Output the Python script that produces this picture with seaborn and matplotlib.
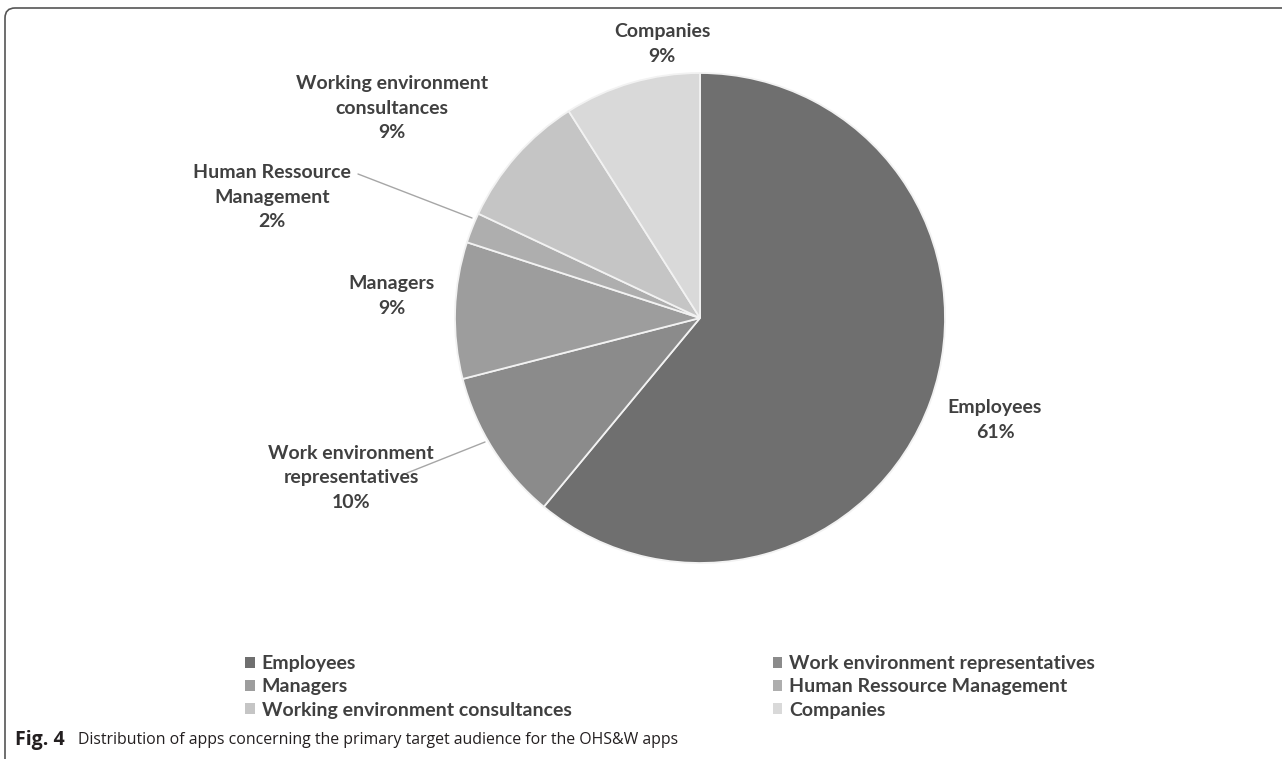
import matplotlib
matplotlib.use("Agg")
import matplotlib.pyplot as plt
import seaborn as sns
from matplotlib.patches import Patch, FancyBboxPatch

# Primary target audience of the OHS&W apps (share of apps, %)
categories = [
    "Employees",
    "Work environment representatives",
    "Managers",
    "Human Ressource Management",
    "Working environment consultances",
    "Companies",
]
shares = [61, 10, 9, 2, 9, 9]
wrapped_names = [
    "Employees",
    "Work environment\nrepresentatives",
    "Managers",
    "Human Ressource\nManagement",
    "Working environment\nconsultances",
    "Companies",
]
caption_bold = "Fig. 4"
caption_text = "Distribution of apps concerning the primary target audience for the OHS&W apps"

sns.set_theme(style="white")
plt.rcParams["font.family"] = ["Lato", "DejaVu Sans"]

W, H = 1282, 759
fig = plt.figure(figsize=(W / 100, H / 100), dpi=100)
ax = fig.add_axes([0, 0, 1, 1])

greys = sns.color_palette(["#6f6f6f", "#8b8b8b", "#9d9d9d", "#aeaeae", "#c5c5c5", "#d9d9d9"])


def py(y):
    """Convert a top-down pixel row into the axes' bottom-up coordinate."""
    return H - y


cx, cy, r = 700, py(318), 245
wedges, _ = ax.pie(
    shares,
    colors=greys,
    startangle=90,
    counterclock=False,
    center=(cx, cy),
    radius=r,
    wedgeprops=dict(edgecolor="#f2f2f2", linewidth=1.3),
)
ax.set_xlim(0, W)
ax.set_ylim(0, H)
ax.set_aspect("auto")
ax.axis("off")

# data labels (name + share), placed around the pie
label_pos = [
    (995, 420),
    (351, 478),
    (392, 296),
    (272, 197),
    (392, 108),
    (662, 44),
]
text_color = "#404040"
for name, share, (x, y) in zip(wrapped_names, shares, label_pos):
    ax.text(x, py(y), f"{name}\n{share}%", ha="center", va="center",
            fontsize=14, fontweight="bold", color=text_color,
            linespacing=1.55)

# leader lines for the two labels set away from their slices
leader = dict(color="#a6a6a6", linewidth=1.0)
ax.plot([358, 472], [py(174), py(218)], **leader)
ax.plot([407, 485], [py(473), py(442)], **leader)

# legend laid out row by row in two columns
handles = [Patch(facecolor=c, edgecolor="none") for c in greys]
order = [0, 2, 4, 1, 3, 5]
leg = ax.legend(
    [handles[i] for i in order],
    [categories[i] for i in order],
    ncol=2,
    loc="upper left",
    bbox_to_anchor=(245 / W, py(655) / H),
    frameon=False,
    prop=dict(family=["Lato", "DejaVu Sans"], weight="bold", size=14),
    labelcolor=text_color,
    handlelength=0.5,
    handleheight=0.5,
    handletextpad=0.35,
    columnspacing=10.35,
    labelspacing=0.33,
    borderaxespad=0,
    borderpad=0,
)

# caption
fig.text(15 / W, 1 - 740 / H, caption_bold, ha="left", va="center",
         fontsize=14, fontweight="bold", color="#231f20",
         family=["Open Sans", "DejaVu Sans"])
fig.text(78 / W, 1 - 740 / H, caption_text, ha="left", va="center",
         fontsize=11.4, color="#231f20", family=["Open Sans", "DejaVu Sans"])

# figure frame with a rounded corner
frame = FancyBboxPatch((5, py(790)), 1320, 790 - 8,
                       boxstyle="round,pad=0,rounding_size=10",
                       fill=False, edgecolor="#555555", linewidth=1.2,
                       clip_on=False)
ax.add_patch(frame)

fig.savefig("out.png", dpi=100)
